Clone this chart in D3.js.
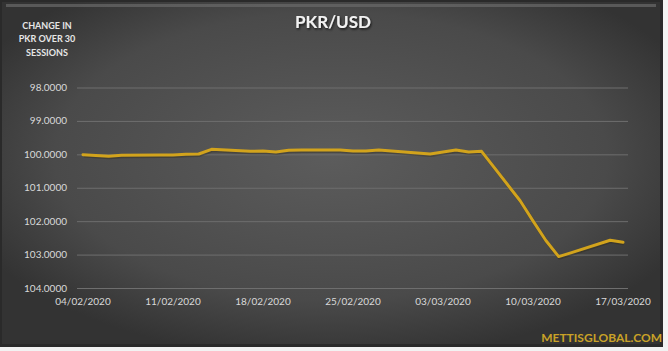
<!DOCTYPE html>
<html><head><meta charset="utf-8">
<script src="https://cdn.jsdelivr.net/npm/d3@7"></script>
<style>
html,body{margin:0;padding:0;background:#fff;}
svg{display:block;}
</style></head>
<body>
<script>
const dates = ["2020-02-04","2020-02-06","2020-02-07","2020-02-10","2020-02-11","2020-02-12","2020-02-13","2020-02-14",
"2020-02-17","2020-02-18","2020-02-19","2020-02-20","2020-02-21","2020-02-24","2020-02-25","2020-02-26","2020-02-27","2020-02-28",
"2020-03-02","2020-03-03","2020-03-04","2020-03-05","2020-03-06","2020-03-09","2020-03-10","2020-03-11","2020-03-12","2020-03-13","2020-03-16","2020-03-17"];
const values = [100.01,100.06,100.03,100.02,100.02,100.00,99.99,99.85,
99.91,99.90,99.93,99.88,99.87,99.87,99.90,99.90,99.87,99.90,
99.99,99.93,99.87,99.93,99.91,101.39,101.99,102.58,103.06,102.94,102.57,102.63];
const yTicks = [98,99,100,101,102,103,104];
const xTicks = ["2020-02-04","2020-02-11","2020-02-18","2020-02-25","2020-03-03","2020-03-10","2020-03-17"];
const title = "PKR/USD";
const subtitle = ["CHANGE IN","PKR OVER 30","SESSIONS"];
const watermark = "METTISGLOBAL.COM";

const W = 668, H = 351;
const parse = d3.utcParse("%Y-%m-%d");
const fmt = d3.utcFormat("%d/%m/%Y");
const data = dates.map((d,i)=>({date:parse(d), value:values[i]}));

const svg = d3.select("body").append("svg").attr("width",W).attr("height",H);
const defs = svg.append("defs");
const rg = defs.append("radialGradient").attr("id","bg").attr("cx","50%").attr("cy","45%").attr("r","60%");
rg.append("stop").attr("offset","0%").attr("stop-color","#5c5c5c");
rg.append("stop").attr("offset","70%").attr("stop-color","#4a4a4a");
rg.append("stop").attr("offset","100%").attr("stop-color","#333333");
const sh = defs.append("filter").attr("id","ts").attr("x","-10%").attr("y","-30%").attr("width","130%").attr("height","170%");
sh.append("feDropShadow").attr("dx",1).attr("dy",1.5).attr("stdDeviation",0.8).attr("flood-color","#000").attr("flood-opacity",0.7);

// page background strip
svg.append("rect").attr("width",W).attr("height",H).attr("fill","#f2f2f2");
svg.append("rect").attr("x",0).attr("y",0).attr("width",663).attr("height",347).attr("fill","#2a2a2a");
svg.append("rect").attr("x",2).attr("y",2).attr("width",658).attr("height",342).attr("fill","url(#bg)");
svg.append("rect").attr("x",6).attr("y",4).attr("width",650).attr("height",3).attr("fill","#6a6a6a").attr("opacity",0.7);

const x = d3.scaleUtc().domain([parse("2020-02-04"), parse("2020-03-17")]).range([83,623]);
const y = d3.scaleLinear().domain([98,104]).range([87.5,288]);

// gridlines
const gy = svg.append("g").call(d3.axisLeft(y).tickValues(yTicks).tickSize(-551).tickFormat(""))
  .attr("transform","translate(628,0)");
gy.attr("transform","translate(77,0)");
gy.select(".domain").remove();
gy.selectAll("line").attr("x2",551).attr("stroke","#6e6e6e").attr("stroke-width",1);

// y labels
svg.append("g").selectAll("text").data(yTicks).join("text")
  .attr("x",67).attr("y",d=>y(d)+3.5).attr("text-anchor","end")
  .attr("font-family","Lato, 'Open Sans', sans-serif").attr("font-size",10).attr("fill","#d9d9d9")
  .text(d=>d3.format(".4f")(d));

// x labels
svg.append("g").selectAll("text").data(xTicks).join("text")
  .attr("x",d=>x(parse(d))).attr("y",305).attr("text-anchor","middle")
  .attr("font-family","Lato, 'Open Sans', sans-serif").attr("font-size",10).attr("fill","#d9d9d9")
  .text(d=>fmt(parse(d)));

// line
const line = d3.line().x(d=>x(d.date)).y(d=>y(d.value));
svg.append("path").datum(data).attr("d",line).attr("fill","none")
  .attr("stroke","#2b2410").attr("stroke-opacity",0.35).attr("stroke-width",3.5)
  .attr("transform","translate(0.8,1.2)").attr("stroke-linejoin","round");
svg.append("path").datum(data).attr("d",line).attr("fill","none")
  .attr("stroke","#d2a31c").attr("stroke-width",3).attr("stroke-linejoin","round").attr("stroke-linecap","round");

// title
svg.append("text").attr("x",333).attr("y",28).attr("text-anchor","middle")
  .attr("font-family","Lato, 'Open Sans', sans-serif").attr("font-weight","bold").attr("font-size",17)
  .attr("fill","#f2f2f2").attr("filter","url(#ts)").text(title);

svg.append("g").selectAll("text").data(subtitle).join("text")
  .attr("x",47).attr("y",(d,i)=>29+i*13.3).attr("text-anchor","middle")
  .attr("font-family","Lato, 'Open Sans', sans-serif").attr("font-weight","bold").attr("font-size",9)
  .attr("fill","#e6e6e6").text(d=>d);

svg.append("text").attr("x",662).attr("y",342).attr("text-anchor","end")
  .attr("font-family","Lato, 'Open Sans', sans-serif").attr("font-weight","bold").attr("font-size",12)
  .attr("fill","#c9a227").text(watermark);
</script>
</body></html>
